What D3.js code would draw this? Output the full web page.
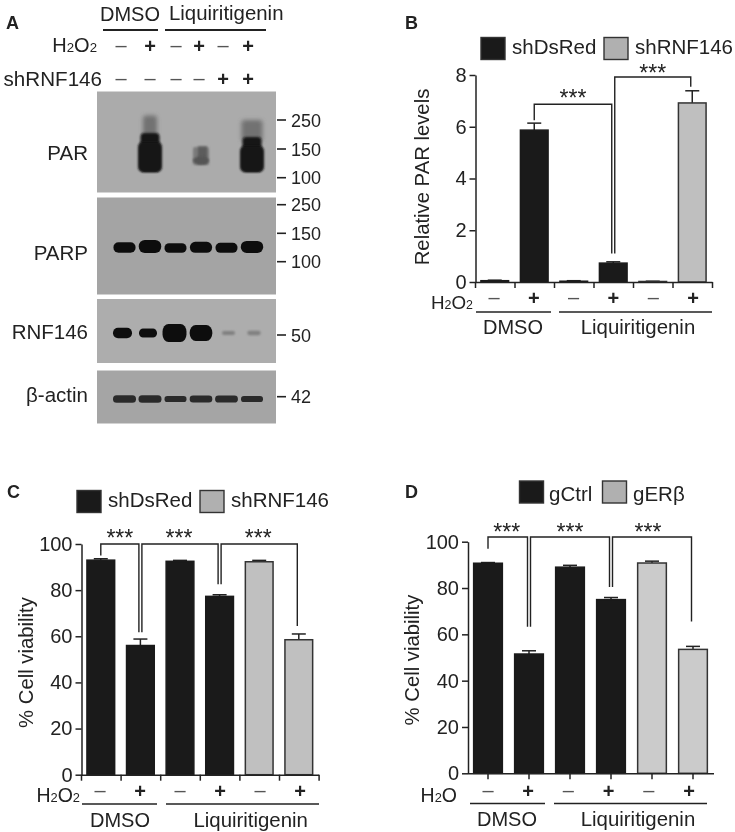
<!DOCTYPE html>
<html><head><meta charset="utf-8">
<style>
html,body{margin:0;padding:0;background:#fff}
svg{display:block;filter:blur(0.35px)}
text{font-family:"Liberation Sans",Arial,sans-serif;fill:#222}
</style>
<script src="https://cdnjs.cloudflare.com/ajax/libs/d3/7.8.5/d3.min.js"></script>
</head><body><svg id="fig" width="735" height="832"></svg>
<script>
// ---------- data ----------
const laneIds = [1,2,3,4,5,6];
const h2o2Signs = ["–","+","–","+","–","+"];
const shRnfSigns = ["–","–","–","–","+","+"];
const parSignal = [0,1,0,0.28,0,1.05];
const parpBand = [1,1.25,0.9,1.05,0.95,1.15];
const rnf146Band = [0.8,0.65,1.5,1.3,0.16,0.2];
const actinBand = [0.72,0.72,0.62,0.68,0.7,0.62];
const barCategories = ["a","b","c","d","e","f"];
const bValues = [0.05,5.87,0.03,0.73,0.02,6.92];
const bErrors = [0.02,0.27,0.02,0.05,0.01,0.47];
const bGroups = ["k","k","k","k","g","g"];
const cValues = [93,56,92.5,77.3,92.3,58.5];
const cErrors = [0.6,2.8,0.4,0.7,0.6,2.5];
const cGroups = ["k","k","k","k","g","g"];
const dValues = [90.7,51.5,89,75,90.8,53.5];
const dErrors = [0.3,1.4,0.8,0.9,0.8,1.3];
const dGroups = ["k","k","k","k","g","g"];
// [from bar, from value, to bar, to value, top value]
const bBrackets = [[1,6.25,3,1.1,6.87],[3,1.1,5,7.55,7.92]];
const cBrackets = [[0,95,1,61.8,100],[1,61.8,3,82.5,100],[3,82.5,5,64.5,100]];
const dBrackets = [[0,97,1,63.3,102],[1,63.3,3,80.4,102],[3,80.4,5,65.5,102]];

const BLACK="#1a1a1a", INK="#222";
const svg=d3.select("#fig");
const defs=svg.append("defs");
[["b06",0.7],["b1",1],["b2",2],["b4",3.6]].forEach(([id,s])=>{
  defs.append("filter").attr("id",id).attr("x","-40%").attr("y","-40%").attr("width","180%").attr("height","180%")
    .append("feGaussianBlur").attr("stdDeviation",s);
});

function label(g,x,y,txt,size,anchor,weight){
  return g.append("text").attr("x",x).attr("y",y).attr("font-size",size)
    .attr("text-anchor",anchor||"start").attr("font-weight",weight||"normal").text(txt);
}
function chem(g,x,y,parts,size,anchor){
  const t=g.append("text").attr("x",x).attr("y",y).attr("font-size",size).attr("text-anchor",anchor||"start");
  parts.forEach(p=>{t.append("tspan").attr("font-size",p.sub?size*0.66:size).text(p.t);});
  return t;
}
const H2O2=[{t:"H"},{t:"2",sub:1},{t:"O"},{t:"2",sub:1}];
const H2O=[{t:"H"},{t:"2",sub:1},{t:"O"}];
function hline(g,x1,x2,y,w){
  g.append("line").attr("x1",x1).attr("x2",x2).attr("y1",y).attr("y2",y).attr("stroke",INK).attr("stroke-width",w||1.6);
}
function sign(g,x,y,s,size){
  if(s==="+"){
    g.append("text").attr("x",x).attr("y",y+7).attr("text-anchor","middle").attr("font-size",size||20).attr("font-weight","bold").text("+");
  } else {
    g.append("text").attr("x",x).attr("y",y+6).attr("text-anchor","middle").attr("font-size",size||20).style("fill","#555").text("–");
  }
}

// ---------- panel A ----------
const A=svg.append("g");
label(A,6,29,"A",18,"start","bold");
label(A,100,21,"DMSO",20);
label(A,169,20,"Liquiritigenin",20.4);
hline(A,103,158,30,2);
hline(A,165,266,30,2);
chem(A,97,52,H2O2,20,"end");
label(A,102,86,"shRNF146",20.6,"end");
const headerX=d3.scaleOrdinal().domain(laneIds).range([121,150,176,199,223,248]);
laneIds.forEach((l,i)=>{
  sign(A,headerX(l),46,h2o2Signs[i],20);
  sign(A,headerX(l),79,shRnfSigns[i],20);
});
const lane=d3.scalePoint().domain(laneIds).range([124.5,252]);
const blots=[
  {name:"PAR",y0:91.5,y1:192.5,bg:"#ababab",ty:160,mw:[["250",120],["150",149],["100",177.7]]},
  {name:"PARP",y0:197.5,y1:294.5,bg:"#a4a4a4",ty:260,mw:[["250",204.7],["150",233.3],["100",261.7]]},
  {name:"RNF146",y0:299,y1:363,bg:"#adadad",ty:339,mw:[["50",335]]},
  {name:"β-actin",y0:370.5,y1:423.5,bg:"#a5a5a5",ty:402,mw:[["42",396.7]]}
];
blots.forEach(b=>{
  A.append("rect").attr("x",97).attr("y",b.y0).attr("width",179).attr("height",b.y1-b.y0).attr("fill",b.bg);
  label(A,88,b.ty,b.name,20.5,"end");
  b.mw.forEach(([t,y])=>{
    A.append("line").attr("x1",277).attr("x2",286).attr("y1",y).attr("y2",y).attr("stroke",INK).attr("stroke-width",1.6);
    label(A,291,y+6.5,t,18);
  });
});
// PAR smears
const parG=A.append("g");
parSignal.forEach((s,i)=>{
  if(!s) return;
  const c=lane(laneIds[i]);
  if(s>0.5){
    const top=s>1?137:133, smearTop=s>1?120:115.5;
    parG.append("rect").attr("x",c-(s>1?10.5:7)).attr("y",smearTop).attr("width",s>1?21:14).attr("height",top-smearTop+5)
      .attr("rx",3).attr("fill","#6c6c6c").attr("opacity",.9).attr("filter","url(#b2)");
    parG.append("rect").attr("x",c-9.5).attr("y",top).attr("width",19).attr("height",172-top)
      .attr("rx",4).attr("fill","#141414").attr("filter","url(#b1)");
    parG.append("rect").attr("x",c-12).attr("y",top+9).attr("width",24).attr("height",172-top-9)
      .attr("rx",5).attr("fill","#141414").attr("filter","url(#b1)");
  } else {
    parG.append("rect").attr("x",c-8).attr("y",147).attr("width",16).attr("height",18).attr("rx",2).attr("fill","#7a7a7a").attr("filter","url(#b1)");
    parG.append("rect").attr("x",c-3).attr("y",146).attr("width",9).attr("height",18).attr("fill","#444").attr("opacity",.55).attr("filter","url(#b1)");
    parG.append("ellipse").attr("cx",c).attr("cy",160.5).attr("rx",8).attr("ry",4).attr("fill","#555").attr("filter","url(#b1)");
  }
});
// discrete bands: signal strength sets how wide and how thick each band looks
function bands(arr,cy,wS,hS,tone,nudge,up){
  const g=A.append("g");
  g.selectAll("rect").data(arr).join("rect")
    .attr("x",(d,i)=>lane(laneIds[i])-(nudge?nudge[i]:0)-wS(d)/2)
    .attr("y",d=>cy-hS(d)/2-(up?up(d):0))
    .attr("width",d=>wS(d))
    .attr("height",d=>hS(d))
    .attr("rx",d=>Math.min(hS(d)/2.1,6)).attr("ry",d=>Math.min(hS(d)/2.1,8))
    .attr("fill",d=>tone(d)).attr("filter",d=>d<0.3?"url(#b1)":"url(#b06)");
}
bands(parpBand,248,d3.scaleLinear().domain([0.9,1.25]).range([22,22.5]),d3.scaleLinear().domain([0.9,1.25]).range([9.5,13]),()=>"#111",null,d3.scaleLinear().domain([0.9,1.25]).range([0,1.5]));
bands(rnf146Band,333,d3.scaleLinear().domain([0.16,0.65,1.5]).range([13,18,24]),d3.scaleLinear().domain([0.16,0.65,1.5]).range([4,9,18]),d=>d<0.3?"#808080":"#0f0f0f",[2,2,1,0,-2,-2]);
bands(actinBand,399,d3.scaleLinear().domain([0.62,0.72]).range([22,23]),d3.scaleLinear().domain([0.62,0.72]).range([6,7.5]),()=>"#2c2c2c");

// ---------- bar panels ----------
function barPanel(o){
  const g=svg.append("g");
  const x=d3.scaleBand().domain(barCategories).range(o.xr).paddingInner(0.3).paddingOuter(0.15);
  const y=d3.scaleLinear().domain([0,o.max]).range(o.yr);
  const cx=i=>x(barCategories[i])+x.bandwidth()/2;
  const signX=d3.scalePoint().domain(barCategories).range(o.signR);
  label(g,o.letter[0],o.letter[1],o.letter[2],18,"start","bold");
  // legend
  o.legend.forEach(l=>{
    g.append("rect").attr("x",l.x).attr("y",o.legY).attr("width",24).attr("height",o.legH)
      .attr("fill",l.c==="k"?BLACK:"#b0b0b0").attr("stroke","#333").attr("stroke-width",1.4);
    label(g,l.x+l.dx,o.legBase,l.t,20.5);
  });
  // error bars
  o.values.forEach((v,i)=>{
    const top=y(v+o.errors[i]), c=cx(i);
    g.append("line").attr("x1",c).attr("x2",c).attr("y1",y(v)).attr("y2",top).attr("stroke",INK).attr("stroke-width",1.5);
    g.append("line").attr("x1",c-7).attr("x2",c+7).attr("y1",top).attr("y2",top).attr("stroke",INK).attr("stroke-width",1.5);
  });
  // bars
  g.selectAll("rect.bar").data(o.values).join("rect").attr("class","bar")
    .attr("x",(d,i)=>x(barCategories[i])).attr("width",x.bandwidth())
    .attr("y",d=>y(d)).attr("height",d=>y(0)-y(d))
    .attr("fill",(d,i)=>o.groups[i]==="k"?BLACK:o.grey)
    .attr("stroke",(d,i)=>o.groups[i]==="k"?BLACK:"#333").attr("stroke-width",1.5);
  // axes
  const ya=g.append("g").attr("transform",`translate(${o.xr[0]+0.5},0)`)
    .call(d3.axisLeft(y).tickValues(o.ticks).tickSize(6).tickPadding(3).tickSizeOuter(0));
  ya.selectAll("text").attr("font-size",20).attr("font-family",null);
  ya.selectAll("line,path").attr("stroke",INK).attr("stroke-width",1.5);
  let xa;
  if(o.tickCentres){
    xa=g.append("g").attr("transform",`translate(0,${o.yr[0]})`)
      .call(d3.axisBottom(x).tickSize(6).tickFormat("").tickSizeOuter(0));
  } else {
    const edge=d3.scaleLinear().domain([0,6]).range(o.xr);
    xa=g.append("g").attr("transform",`translate(0,${o.yr[0]})`)
      .call(d3.axisBottom(edge).tickValues(d3.range(7)).tickSize(6).tickFormat("").tickSizeOuter(0));
  }
  xa.selectAll("line,path").attr("stroke",INK).attr("stroke-width",1.5);
  // y title
  g.append("text").attr("transform",`translate(${o.title[0]},${o.title[1]}) rotate(-90)`)
    .attr("text-anchor","middle").attr("font-size",20.3).text(o.title[2]);
  // signs
  h2o2Signs.forEach((s,i)=>sign(g,signX(barCategories[i]),o.signY,s,20));
  chem(g,o.chem[0],o.chem[1],o.chem[2],o.chem[3]||19.5,"end");
  // group lines
  hline(g,o.gl[0],o.gl[1],o.gl[4],1.6);
  hline(g,o.gl[2],o.gl[3],o.gl[4],1.6);
  label(g,o.dmso[0],o.dmso[1],"DMSO",20,"middle");
  label(g,o.liq[0],o.liq[1],"Liquiritigenin",20.4,"middle");
  // brackets
  o.brackets.forEach((b,i)=>{
    const left=cx(b[0])+(i>0?o.nudge:0);
    const right=cx(b[2])-o.nudge;
    const p=d3.path();
    p.moveTo(left,y(b[1])); p.lineTo(left,y(b[4])); p.lineTo(right,y(b[4])); p.lineTo(right,y(b[3]));
    g.append("path").attr("d",p.toString()).attr("fill","none").attr("stroke",INK).attr("stroke-width",1.4);
    g.append("text").attr("x",(left+right)/2+(o.starDx?o.starDx[i]:0)).attr("y",y(b[4])+o.starDy[i]).attr("text-anchor","middle").attr("font-size",23).text("***");
  });
}
barPanel({letter:[405,29,"B"],xr:[475,712],yr:[282,75],max:8,ticks:[0,2,4,6,8],values:bValues,errors:bErrors,groups:bGroups,grey:"#bfbfbf",
  signR:[494,693],
  legend:[{x:481,c:"k",t:"shDsRed",dx:31},{x:604,c:"g",t:"shRNF146",dx:31}],legY:37.5,legH:22,legBase:54,
  title:[429,177,"Relative PAR levels"],signY:298,chem:[473,309,H2O2,18.8],gl:[476,551,559,712,312],dmso:[513,334],liq:[638,334],
  brackets:bBrackets,nudge:1.5,starDy:[1.5,4]});
barPanel({letter:[7,498,"C"],xr:[81,318.6],yr:[774.7,544],max:100,ticks:[0,20,40,60,80,100],values:cValues,errors:cErrors,groups:cGroups,grey:"#c0c0c0",
  signR:[100,300],
  legend:[{x:77,c:"k",t:"shDsRed",dx:31},{x:200,c:"g",t:"shRNF146",dx:31}],legY:490.5,legH:22,legBase:507,
  title:[33,662.5,"% Cell viability"],signY:791,chem:[80,802,H2O2],gl:[82,157,166,319,804],dmso:[120,826.5],liq:[250.7,826.5],
  brackets:cBrackets,nudge:1.5,starDy:[1.5,1.5,1.5],starDx:[0,-1,-1]});
barPanel({letter:[405,498,"D"],xr:[467.5,713.5],yr:[773.3,541.7],max:100,ticks:[0,20,40,60,80,100],values:dValues,errors:dErrors,groups:dGroups,grey:"#cbcbcb",tickCentres:true,
  signR:[488,689],
  legend:[{x:519.5,c:"k",t:"gCtrl",dx:29.5},{x:602.5,c:"g",t:"gERβ",dx:30.5}],legY:481,legH:22,legBase:500.5,
  title:[418.5,660,"% Cell viability"],signY:791,chem:[457,802,H2O],gl:[470,545,554,707,803.5],dmso:[507,826],liq:[638,826],
  brackets:dBrackets,nudge:1.5,starDy:[3,3,3],starDx:[-1,0,-4]});
</script></body></html>
